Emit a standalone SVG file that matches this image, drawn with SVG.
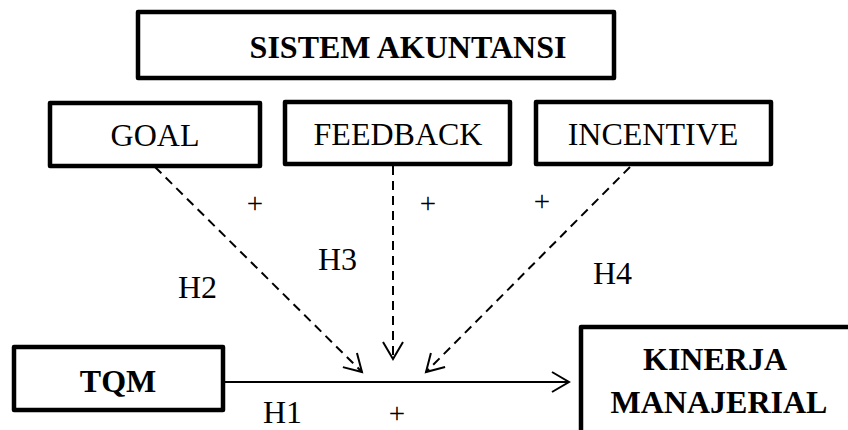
<svg xmlns="http://www.w3.org/2000/svg" width="848" height="430" viewBox="0 0 848 430">
  <style>
    .box { fill: #ffffff; stroke: #000000; stroke-width: 4.5; stroke-linejoin: round; }
    .lbl { font-family: "Liberation Serif", "Times New Roman", serif; font-size: 32px; fill: #000000; }
    .bold { font-weight: bold; }
    .mid { text-anchor: middle; }
    .plus { font-size: 29px; }
    .dash { fill: none; stroke: #000000; stroke-width: 2; stroke-dasharray: 9 6; }
    .solid { fill: none; stroke: #000000; stroke-width: 2; }
  </style>
  <defs>
    <!-- open V arrowhead shared by all connectors -->
    <marker id="open" markerUnits="userSpaceOnUse" markerWidth="24" markerHeight="24" refX="19" refY="12" orient="auto" viewBox="0 0 24 24">
      <path d="M2,2 L19,12 L2,22" fill="none" stroke="#000" stroke-width="2"/>
    </marker>
  </defs>

  <rect width="848" height="430" fill="#ffffff"/>

  <g id="sistem-akuntansi">
    <rect class="box" x="138" y="12" width="476" height="66"/>
    <text class="lbl bold mid" x="408" y="58">SISTEM AKUNTANSI</text>
  </g>

  <g id="goal">
    <rect class="box" x="50" y="103" width="210" height="63"/>
    <text class="lbl mid" x="155" y="146">GOAL</text>
  </g>

  <g id="feedback">
    <rect class="box" x="285" y="102" width="225" height="62"/>
    <text class="lbl mid" x="398" y="145">FEEDBACK</text>
  </g>

  <g id="incentive">
    <rect class="box" x="536" y="102" width="235" height="62"/>
    <text class="lbl mid" x="653" y="145">INCENTIVE</text>
  </g>

  <g id="tqm">
    <rect class="box" x="14" y="347" width="209" height="63"/>
    <text class="lbl bold mid" x="118" y="392">TQM</text>
  </g>

  <g id="kinerja-manajerial">
    <rect class="box" x="581" y="327" width="300" height="150"/>
    <text class="lbl bold mid" x="715" y="370">KINERJA</text>
    <text class="lbl bold mid" x="719" y="413">MANAJERIAL</text>
  </g>

  <g id="connectors">
    <line class="solid" x1="223" y1="382" x2="569" y2="382" marker-end="url(#open)"/>
    <line class="dash" x1="155" y1="167" x2="362" y2="372" marker-end="url(#open)"/>
    <line class="dash" x1="393" y1="166" x2="393" y2="359" marker-end="url(#open)"/>
    <line class="dash" x1="630" y1="167" x2="426" y2="372" marker-end="url(#open)"/>
  </g>

  <g id="labels">
    <text class="lbl plus mid" x="255" y="213">+</text>
    <text class="lbl plus mid" x="428" y="213">+</text>
    <text class="lbl plus mid" x="542" y="211">+</text>
    <text class="lbl" x="178" y="298">H2</text>
    <text class="lbl" x="318" y="270">H3</text>
    <text class="lbl" x="593" y="284">H4</text>
    <text class="lbl" x="263" y="423">H1</text>
    <text class="lbl plus mid" x="397" y="423">+</text>
  </g>
</svg>
